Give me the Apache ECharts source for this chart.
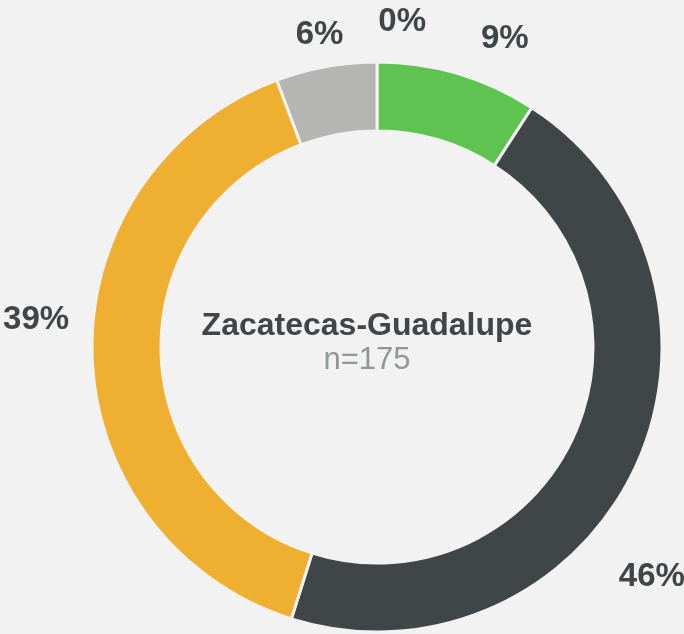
<!DOCTYPE html>
<html>
<head>
<meta charset="utf-8">
<script src="https://cdn.jsdelivr.net/npm/echarts@6/dist/echarts.min.js"></script>
<style>
html,body{margin:0;padding:0;background:#f2f2f2;}
#chart{width:684px;height:634px;}
</style>
</head>
<body>
<div id="chart"></div>
<script>
const categories = ['Sin respuesta', 'Categoría 1', 'Categoría 2', 'Categoría 3', 'Categoría 4'];
const counts = [0, 16, 80, 69, 10];
const colors = ['#8f9797', '#5fc352', '#404647', '#efaf30', '#b5b5b3'];
const title = 'Zacatecas-Guadalupe';
const subtitle = 'n=175';
// label nudges (style only): [dx, dy] per slice label
const labelNudge = [[49, 3], [11, 6], [-55, 90], [20, -36], [25, 11]];

const chart = echarts.init(document.getElementById('chart'), null, {renderer: 'canvas'});
chart.setOption({
  backgroundColor: '#f2f2f2',
  animation: false,
  title: {
    text: title,
    subtext: subtitle,
    left: 362,
    top: 305,
    textAlign: 'center',
    itemGap: 3,
    textStyle: {fontFamily: 'Liberation Sans', fontWeight: 'bold', fontSize: 32, color: '#404647'},
    subtextStyle: {fontFamily: 'Liberation Sans', fontWeight: 'normal', fontSize: 31, color: '#8f9797'}
  },
  series: [{
    type: 'pie',
    center: [377, 347],
    radius: [216, 285],
    startAngle: 90,
    clockwise: true,
    avoidLabelOverlap: false,
    percentPrecision: 0,
    data: categories.map((c, i) => ({name: c, value: counts[i], itemStyle: {color: colors[i]}})),
    itemStyle: {borderColor: '#f2f2f2', borderWidth: 3},
    label: {
      show: true,
      position: 'outside',
      formatter: p => p.percent + '%',
      fontFamily: 'Liberation Sans',
      fontWeight: 'bold',
      fontSize: 33,
      color: '#404647',
      distanceToLabelLine: 0
    },
    labelLine: {show: false, length: 43, length2: 0},
    labelLayout: p => ({dx: labelNudge[p.dataIndex][0], dy: labelNudge[p.dataIndex][1]}),
    emphasis: {disabled: true}
  }]
});
</script>
</body>
</html>
